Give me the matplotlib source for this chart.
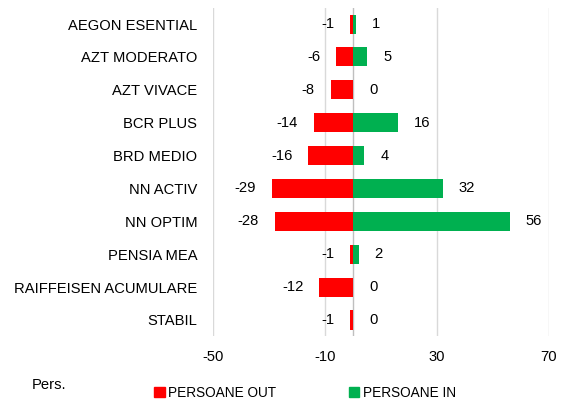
import matplotlib.pyplot as plt
from matplotlib.patches import Patch

# Data (top to bottom)
funds = ['AEGON ESENTIAL', 'AZT MODERATO', 'AZT VIVACE', 'BCR PLUS', 'BRD MEDIO',
         'NN ACTIV', 'NN OPTIM', 'PENSIA MEA', 'RAIFFEISEN ACUMULARE', 'STABIL']
persons_out = [-1, -6, -8, -14, -16, -29, -28, -1, -12, -1]
persons_in = [1, 5, 0, 16, 4, 32, 56, 2, 0, 0]
x_ticks = [-50, -10, 30, 70]

RED = '#FF0000'
GREEN = '#00B050'

plt.rcParams['font.family'] = ['Liberation Sans', 'DejaVu Sans']
plt.rcParams['axes.unicode_minus'] = False
FS = 10.6


def generate_plot():
    fig = plt.figure(figsize=(5.64, 4.01), dpi=100)
    ax = fig.add_axes([0.378, 0.161, 0.595, 0.82])

    pos = list(range(len(funds)))
    ax.barh(pos, persons_out, height=0.58, color=RED, zorder=3)
    ax.barh(pos, persons_in, height=0.58, color=GREEN, zorder=3)

    # value labels outside the bar ends
    for y, v in zip(pos, persons_out):
        ax.annotate(str(v), (v, y), xytext=(-11.5, 0), textcoords='offset points',
                    ha='right', va='center', fontsize=FS)
    for y, v in zip(pos, persons_in):
        ax.annotate(str(v), (v, y), xytext=(11.5, 0), textcoords='offset points',
                    ha='left', va='center', fontsize=FS)

    ax.set_xlim(-50, 70)
    ax.set_ylim(len(funds) - 0.5, -0.5)
    ax.set_xticks(x_ticks)
    ax.set_yticks(pos)
    ax.set_yticklabels(funds)
    ax.grid(axis='x', color='#D9D9D9', linewidth=1, zorder=0)
    ax.axvline(0, color='#BFBFBF', linewidth=1, zorder=2)
    for s in ax.spines.values():
        s.set_visible(False)
    ax.tick_params(axis='both', length=0, labelsize=FS)
    ax.tick_params(axis='y', pad=11.5)
    ax.tick_params(axis='x', pad=9.5)

    fig.text(0.057, 0.04, 'Pers.', fontsize=FS, va='center', ha='left')
    handles = [Patch(color=RED, label='PERSOANE OUT'), Patch(color=GREEN, label='PERSOANE IN')]
    fig.legend(handles=handles, loc='center left', bbox_to_anchor=(0.273, 0.021), ncol=2,
               frameon=False, handlelength=0.8, handleheight=0.8, handletextpad=0.25,
               columnspacing=5.3, fontsize=9.8, borderpad=0, borderaxespad=0)

    fig.savefig('out.png', dpi=100)


if __name__ == '__main__':
    generate_plot()
